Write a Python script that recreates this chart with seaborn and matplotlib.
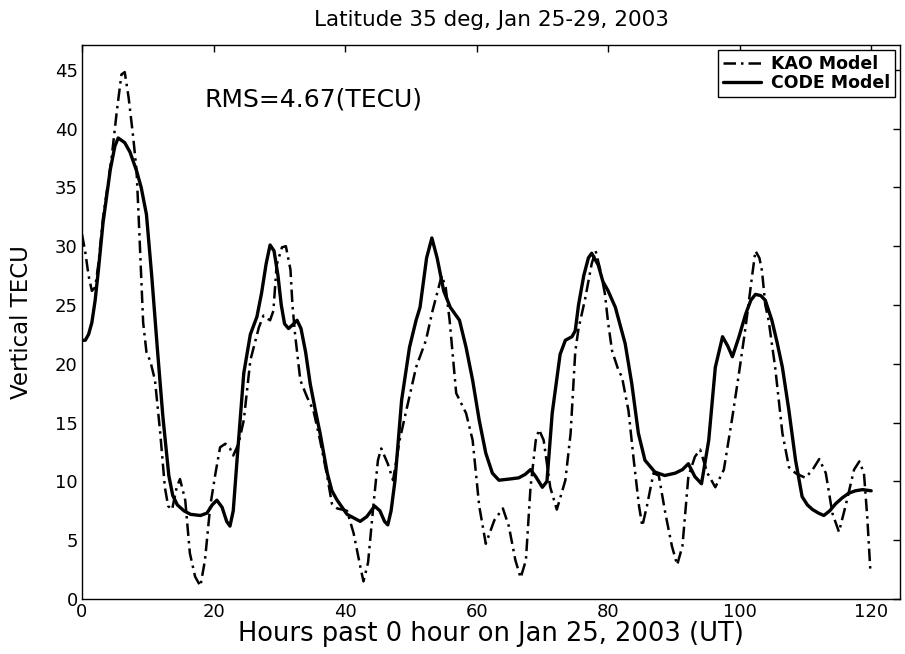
import matplotlib
matplotlib.use("Agg")
import matplotlib.pyplot as plt
import seaborn as sns
import pandas as pd

# KAO model (dash-dot)
kao_hours = [0, 0.5, 1, 1.5, 2, 2.5, 3.2, 4.5, 5.3, 6.0, 6.5, 7.1, 7.8, 8.3, 8.6,
             9.0, 9.3, 9.8, 10.4, 11.1, 11.9, 12.6, 13.1, 13.7, 14.4, 14.9, 15.7,
             16.4, 17.2, 18.0, 18.7, 19.5, 20.3, 21.0, 21.8, 22.5, 23.0, 23.8, 24.6,
             25.6, 26.9, 27.6, 28.3, 28.6, 29.1, 29.6, 30.4, 31.0, 31.7, 32.0, 32.4,
             33.2, 34.2, 35.2, 36.2, 37.3, 38.0, 38.8, 40.3, 41.3, 42.3, 42.8, 43.5,
             44.3, 45.0, 45.5, 46.5, 47.3, 48.3, 49.3, 50.8, 52.3, 53.3, 54.0, 54.7,
             55.3, 55.9, 56.9, 58.4, 59.4, 60.4, 61.4, 62.7, 64.0, 64.9, 65.9, 66.7,
             67.5, 68.2, 69.0, 69.5, 70.2, 71.2, 72.2, 73.5, 74.3, 75.0, 75.5, 76.5,
             77.5, 78.1, 78.8, 79.5, 80.0, 80.6, 81.6, 82.1, 83.1, 83.9, 84.7, 85.2,
             85.9, 86.9, 87.7, 88.7, 89.7, 90.5, 91.3, 92.2, 93.2, 94.0, 95.1, 96.3,
             97.6, 98.9, 99.9, 100.9, 101.9, 102.4, 103.0, 103.4, 103.9, 104.4, 105.4,
             106.5, 107.5, 108.5, 110.0, 111.1, 112.1, 113.1, 114.1, 115.1, 116.1,
             117.4, 118.2, 118.9, 119.4, 119.9]
kao_tecu = [31.0, 29.5, 27.5, 26.2, 26.5, 28.5, 32.4, 37.5, 41.5, 44.6, 44.8, 42.6, 39.2, 36.4, 32.7,
            27.5, 23.5, 21.0, 20.2, 18.6, 14.1, 9.5, 7.9, 7.6, 9.5, 10.2, 8.4,
            3.9, 1.9, 1.1, 3.3, 7.9, 10.7, 12.9, 13.2, 12.8, 12.2, 13.2, 15.2,
            20.3, 23.1, 24.1, 23.8, 23.7, 24.5, 28.4, 29.9, 30.0, 28.0, 25.0, 22.5,
            18.6, 17.2, 16.0, 13.5, 10.4, 8.1, 7.7, 7.5, 5.6, 2.8, 1.5, 3.1,
            7.9, 11.8, 12.8, 11.5, 10.1, 13.5, 16.0, 19.7, 22.0, 24.5, 26.0, 27.5,
            26.5, 23.7, 17.5, 15.8, 13.5, 7.9, 4.7, 6.7, 7.7, 6.2, 3.3, 1.8,
            3.3, 9.5, 13.5, 14.4, 13.5, 9.5, 7.6, 10.1, 14.1, 21.0, 23.0, 25.5,
            28.5, 29.6, 28.0, 26.0, 23.5, 21.1, 19.4, 18.9, 16.0, 11.8, 7.9, 6.2,
            7.9, 10.7, 10.5, 7.3, 4.5, 2.9, 4.5, 10.4, 12.1, 12.7, 10.7, 9.5,
            11.0, 15.5, 19.2, 23.1, 27.5, 29.6, 29.0, 27.9, 25.0, 23.7, 19.7,
            14.1, 11.2, 10.7, 10.3, 11.0, 11.9, 10.7, 7.3, 5.7, 7.9,
            11.0, 11.7, 10.7, 7.0, 2.2]

# CODE model (solid)
code_hours = [0, 0.5, 1, 1.5, 2, 2.5, 3.2, 4.3, 5.0, 5.5, 6.5, 7.3, 8.3, 9.0, 9.8,
              10.6, 11.5, 12.3, 13.2, 13.8, 14.5, 15.5, 16.5, 18.0, 19.0, 19.8, 20.5,
              21.3, 22.0, 22.5, 23.0, 23.6, 24.6, 25.6, 26.6, 27.3, 28.0, 28.6, 29.2,
              29.8, 30.3, 30.8, 31.4, 32.0, 32.7, 33.3, 34.0, 34.7, 35.5, 36.2, 37.3,
              38.0, 38.8, 40.3, 41.3, 42.3, 43.3, 44.5, 45.3, 46.0, 46.5, 47.0, 47.6,
              48.6, 49.8, 50.8, 51.4, 52.4, 53.2, 54.0, 55.0, 56.0, 57.4, 58.4, 59.4,
              60.4, 61.4, 62.4, 63.4, 65.0, 66.4, 67.4, 68.2, 69.0, 70.0, 70.7, 71.5,
              72.7, 73.5, 74.5, 75.0, 75.5, 76.3, 77.0, 77.5, 78.5, 79.2, 80.0, 81.1,
              82.6, 83.6, 84.6, 85.6, 87.1, 88.6, 90.2, 91.3, 92.2, 93.2, 94.2, 95.3,
              96.3, 97.4, 98.2, 98.9, 99.9, 100.9, 101.7, 102.4, 103.2, 103.9, 104.9,
              105.7, 106.5, 107.5, 108.5, 109.5, 110.3, 111.1, 112.0, 112.8, 113.7,
              114.6, 115.6, 116.6, 117.6, 118.7, 120.0]
code_tecu = [22.0, 22.0, 22.5, 23.5, 25.4, 28.0, 32.0, 36.5, 38.5, 39.2, 38.8, 38.0, 36.4, 35.0, 32.7,
             27.5, 21.0, 15.5, 10.5, 8.8, 8.0, 7.5, 7.2, 7.1, 7.3, 8.0, 8.4,
             7.8, 6.6, 6.2, 7.5, 12.0, 19.2, 22.5, 24.0, 26.0, 28.5, 30.1, 29.6,
             27.5, 25.0, 23.4, 23.0, 23.3, 23.7, 23.0, 21.0, 18.3, 16.0, 14.1, 10.7,
             9.2, 8.4, 7.2, 6.9, 6.6, 7.0, 7.9, 7.5, 6.6, 6.3, 7.5, 10.1,
             16.9, 21.4, 23.7, 24.8, 29.0, 30.7, 29.0, 26.2, 24.8, 23.7, 21.4, 18.6,
             15.2, 12.4, 10.7, 10.1, 10.2, 10.3, 10.6, 11.0, 10.4, 9.5, 10.0, 15.8,
             20.8, 22.0, 22.3, 22.8, 25.0, 27.5, 29.0, 29.4, 28.4, 27.0, 26.2, 24.8,
             21.7, 18.3, 14.1, 11.8, 10.8, 10.5, 10.7, 11.0, 11.5, 10.4, 9.8, 13.5,
             19.7, 22.3, 21.5, 20.6, 22.3, 24.2, 25.4, 25.9, 25.8, 25.4, 23.7,
             21.8, 19.7, 16.0, 11.8, 8.7, 8.0, 7.6, 7.3, 7.1, 7.5,
             8.1, 8.6, 9.0, 9.2, 9.3, 9.2]

x_ticks = [0, 20, 40, 60, 80, 100, 120]
y_ticks = [0, 5, 10, 15, 20, 25, 30, 35, 40, 45]

kao = pd.DataFrame({"hours": kao_hours, "tecu": kao_tecu})
code = pd.DataFrame({"hours": code_hours, "tecu": code_tecu})

sns.set_style("white")
plt.rcParams["font.family"] = ["DejaVu Sans"]
plt.rcParams["text.color"] = "black"
plt.rcParams["axes.labelcolor"] = "black"

fig = plt.figure(figsize=(9.05, 6.54), dpi=100)
ax = fig.add_axes([0.0906, 0.0841, 0.904, 0.847])

sns.lineplot(data=kao, x="hours", y="tecu", ax=ax, color="black", linewidth=1.8,
             estimator=None, label="KAO Model")
ax.lines[-1].set_linestyle((0, (5, 2, 1, 2)))
sns.lineplot(data=code, x="hours", y="tecu", ax=ax, color="black", linewidth=2.4,
             estimator=None, label="CODE Model")

ax.set_xlim(0, 124.4)
ax.set_ylim(0, 47.1)
ax.set_xticks(x_ticks)
ax.set_yticks(y_ticks)
ax.tick_params(direction="in", length=5, width=1, top=True, right=True,
               labelsize=13, colors="black", pad=3)
for s in ax.spines.values():
    s.set_color("black")
    s.set_linewidth(1.0)

ax.set_xlabel("Hours past 0 hour on Jan 25, 2003 (UT)", fontsize=18.5, labelpad=0,
              color="black")
ax.set_ylabel("Vertical TECU", fontsize=16.5, labelpad=16, color="black")
ax.set_title("Latitude 35 deg, Jan 25-29, 2003", fontsize=15.5, pad=14, color="black")
ax.text(18.7, 42.5, "RMS=4.67(TECU)", fontsize=18, va="center", ha="left", color="black")

leg = ax.legend(loc="upper right", fontsize=12.5, handlelength=2.2, frameon=True,
                fancybox=False, framealpha=1, borderaxespad=0.3, borderpad=0.25,
                labelspacing=0.1, handletextpad=0.6)
leg.get_frame().set_edgecolor("black")
leg.get_frame().set_linewidth(1.0)
for t in leg.get_texts():
    t.set_fontweight("bold")
    t.set_color("black")

fig.savefig("out.png", dpi=100)
